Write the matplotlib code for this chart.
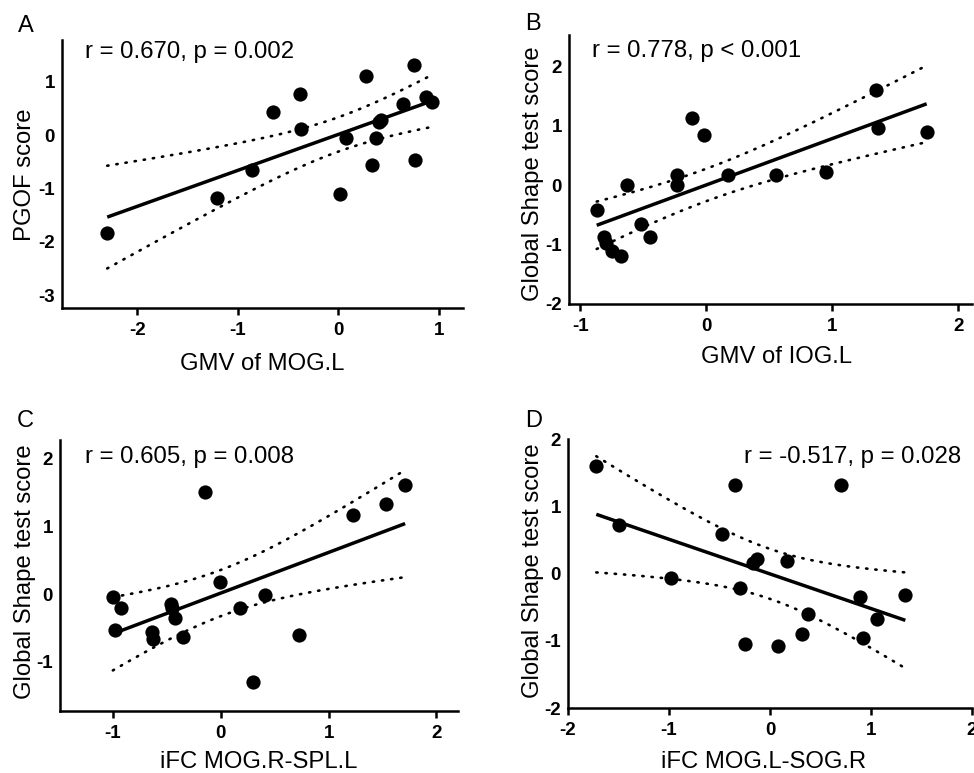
import math
import numpy as np
import matplotlib
matplotlib.use("Agg")
import matplotlib.pyplot as plt

plt.rcParams['font.family'] = ['Liberation Sans', 'DejaVu Sans']

# ---------------- data ----------------
a_x = [-2.30, -1.21, -0.86, -0.65, -0.38, -0.37, 0.02, 0.08, 0.27, 0.33, 0.37, 0.40, 0.42, 0.64, 0.75, 0.76, 0.87, 0.93]
a_y = [-1.84, -1.18, -0.66, 0.43, 0.77, 0.11, -1.10, -0.06, 1.11, -0.56, -0.06, 0.25, 0.28, 0.59, 1.31, -0.47, 0.72, 0.62]

b_x = [-0.87, -0.81, -0.80, -0.75, -0.68, -0.63, -0.52, -0.45, -0.23, -0.23, -0.11, -0.02, 0.17, 0.55, 0.95, 1.35, 1.36, 1.75]
b_y = [-0.42, -0.88, -0.97, -1.10, -1.19, 0.01, -0.65, -0.87, 0.00, 0.17, 1.14, 0.84, 0.18, 0.17, 0.23, 1.60, 0.96, 0.89]

c_x = [-1.00, -0.98, -0.92, -0.64, -0.63, -0.46, -0.45, -0.42, -0.35, -0.15, -0.01, 0.18, 0.30, 0.41, 0.73, 1.23, 1.53, 1.71]
c_y = [-0.05, -0.53, -0.20, -0.56, -0.67, -0.15, -0.21, -0.35, -0.64, 1.50, 0.18, -0.21, -1.29, -0.01, -0.61, 1.17, 1.32, 1.60]

d_x = [-1.72, -1.50, -0.98, -0.48, -0.35, -0.30, -0.25, -0.17, -0.13, 0.08, 0.17, 0.32, 0.38, 0.70, 0.89, 0.92, 1.06, 1.34]
d_y = [1.60, 0.72, -0.07, 0.59, 1.32, -0.22, -1.04, 0.16, 0.22, -1.07, 0.19, -0.89, -0.60, 1.31, -0.34, -0.95, -0.68, -0.31]

letters = ['A', 'B', 'C', 'D']
annotations = ['r = 0.670, p = 0.002', 'r = 0.778, p < 0.001',
               'r = 0.605, p = 0.008', 'r = -0.517, p = 0.028']
xlabels = ['GMV of MOG.L', 'GMV of IOG.L', 'iFC MOG.R-SPL.L', 'iFC MOG.L-SOG.R']
ylabels = ['PGOF score', 'Global Shape test score', 'Global Shape test score', 'Global Shape test score']
xticks = [[-2, -1, 0, 1], [-1, 0, 1, 2], [-1, 0, 1, 2], [-2, -1, 0, 1, 2]]
yticks = [[-3, -2, -1, 0, 1], [-2, -1, 0, 1, 2], [-1, 0, 1, 2], [-2, -1, 0, 1, 2]]
xlims = [(-2.75, 1.24), (-1.09, 2.11), (-1.49, 2.2), (-2.0, 2.0)]
ylims = [(-3.24, 1.78), (-2.0, 2.53), (-1.72, 2.27), (-2.0, 2.0)]


def t_crit975(df):
    c = math.gamma((df + 1) / 2) / (math.sqrt(df * math.pi) * math.gamma(df / 2))
    xs = np.linspace(0, 10, 200001)
    pdf = c * (1 + xs ** 2 / df) ** (-(df + 1) / 2)
    cdf = 0.5 + np.concatenate([[0], np.cumsum((pdf[1:] + pdf[:-1]) / 2 * np.diff(xs))])
    return float(np.interp(0.975, cdf, xs))


fig = plt.figure(figsize=(9.74, 7.73), dpi=100)
positions = [
    (62, 463, 40, 308),
    (569, 972, 35, 304),
    (60, 458, 440, 710.7),
    (568, 972, 439, 708.3),
]
ann_pos = [(0.058, 0.933, 'left'), (0.056, 0.917, 'left'), (0.063, 0.916, 'left'), (0.435, 0.91, 'left')]
letter_pos = [(18, 32), (525, 30), (17, 427), (525, 427)]
ylab_x = [(-0.093, 0.496), (-0.089, 0.483), (-0.088, 0.513), (-0.087, 0.51)]
xlab_off = [62, 58.7, 57, 60]
xlab_cx = [0.5, 0.515, 0.5, 0.484]

datasets = [(a_x, a_y), (b_x, b_y), (c_x, c_y), (d_x, d_y)]
W, H = 974, 773
for i, ((xd, yd), (l, r, t, b)) in enumerate(zip(datasets, positions)):
    ax = fig.add_axes([l / W, 1 - b / H, (r - l) / W, (b - t) / H])
    x = np.array(xd)
    y = np.array(yd)
    n = len(x)
    slope, intercept = np.polyfit(x, y, 1)
    xs = np.linspace(x.min(), x.max(), 200)
    yfit = slope * xs + intercept
    resid = y - (slope * x + intercept)
    s = math.sqrt(np.sum(resid ** 2) / (n - 2))
    sxx = np.sum((x - x.mean()) ** 2)
    tc = t_crit975(n - 2)
    hw = tc * s * np.sqrt(1.0 / n + (xs - x.mean()) ** 2 / sxx)
    ax.plot(xs, yfit, color='black', lw=2.5, zorder=2, solid_capstyle='butt')
    for sign in (1, -1):
        ax.plot(xs, yfit + sign * hw, color='black', lw=1.9,
                linestyle=(0, (0.5, 3.0)), dash_capstyle='round', zorder=2)
    ax.scatter(x, y, s=105, color='black', zorder=3, linewidths=0)

    ax.set_xlim(*xlims[i])
    ax.set_ylim(*ylims[i])
    ax.set_xticks(xticks[i])
    ax.set_yticks(yticks[i])
    ax.set_xticklabels([str(v) for v in xticks[i]], fontweight='bold', fontsize=13.5)
    ax.set_yticklabels([str(v) for v in yticks[i]], fontweight='bold', fontsize=13.5)
    ax.tick_params(axis='x', length=5, width=1.8, pad=5)
    ax.tick_params(axis='y', length=0, pad=5)
    for sp in ['top', 'right']:
        ax.spines[sp].set_visible(False)
    for sp in ['left', 'bottom']:
        ax.spines[sp].set_linewidth(1.8)

    ax.set_xlabel(xlabels[i], fontsize=17.2)
    ax.xaxis.label.set_va('baseline')
    ax.xaxis.set_label_coords(xlab_cx[i], -xlab_off[i] / (b - t))
    ax.set_ylabel(ylabels[i], fontsize=17.2)
    ax.yaxis.label.set_va('center')
    ax.yaxis.set_label_coords(*ylab_x[i])

    axx, axy, ha = ann_pos[i]
    ax.text(axx, axy, annotations[i], transform=ax.transAxes, fontsize=17.3,
            ha=ha, va='baseline')

    lx, ly = letter_pos[i]
    fig.text(lx / W, 1 - ly / H, letters[i], fontsize=17, ha='left', va='baseline')

fig.savefig('out.png', dpi=100)
